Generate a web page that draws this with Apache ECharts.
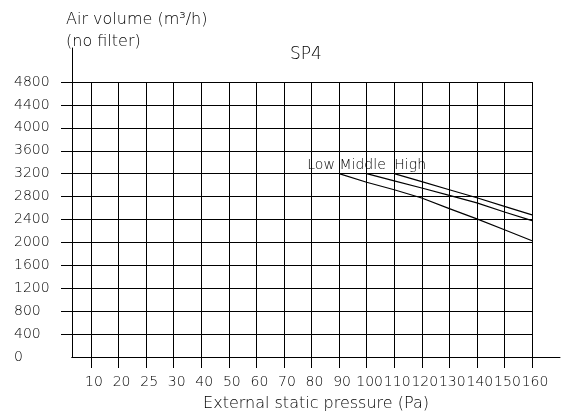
<!DOCTYPE html>
<html>
<head>
<meta charset="utf-8">
<script src="https://cdn.jsdelivr.net/npm/echarts@6/dist/echarts.min.js"></script>
<style>
  html, body { margin: 0; padding: 0; background: #fff; }
  #chart { width: 561px; height: 420px; }
</style>
</head>
<body>
<div id="chart"></div>
<script>
// pressure categories along the bottom (Pa)
var pressures = [10, 20, 25, 30, 40, 50, 60, 70, 80, 90, 100, 110, 120, 130, 140, 150, 160];
var airTicks = [0, 400, 800, 1200, 1600, 2000, 2400, 2800, 3200, 3600, 4000, 4400, 4800];

// fan curves, air volume (m3/h) against pressure (Pa)
var lowPa = [90, 100, 110, 120, 130, 140, 150, 160];
var lowAir = [3200, 3050, 2920, 2775, 2590, 2410, 2220, 2030];
var midPa = [100, 110, 120, 130, 140, 150, 160];
var midAir = [3200, 3075, 2950, 2820, 2690, 2530, 2380];
var highPa = [110, 120, 130, 140, 150, 160];
var highAir = [3200, 3060, 2920, 2780, 2630, 2480];

var FONT = 'DejaVu Sans';
var W = 200; // light weight if available
var idx = pressures.map(function (p, i) { return i; });

function curve(name, pa, air, dx) {
  var data = pa.map(function (p, i) {
    return [pressures.indexOf(p), air[i]];
  });
  data[0] = {
    value: data[0],
    label: {
      show: true, position: 'top', distance: 1, offset: [dx, 0],
      formatter: name, color: '#000', fontFamily: FONT, fontWeight: W, fontSize: 14
    }
  };
  return {
    name: name,
    type: 'line',
    xAxisIndex: 0,
    yAxisIndex: 0,
    showSymbol: true,
    symbol: 'circle',
    symbolSize: 0,
    lineStyle: { color: '#000', width: 1.2 },
    itemStyle: { color: '#000' },
    label: { show: false },
    data: data
  };
}

var chart = echarts.init(document.getElementById('chart'));
chart.setOption({
  animation: false,
  title: [
    {
      text: 'Air volume (m³/h)\n(no filter)',
      left: 66, top: 9, padding: 0,
      textStyle: { fontFamily: FONT, fontSize: 16, fontWeight: W, color: '#000', lineHeight: 22 }
    },
    {
      text: 'SP4',
      left: 290, top: 46, padding: 0,
      textStyle: { fontFamily: FONT, fontSize: 17, fontWeight: W, color: '#000' }
    }
  ],
  grid: [
    { left: 72, right: 29, top: 82, bottom: 63 },
    { left: 72, right: 1, top: 48, bottom: 63 }
  ],
  xAxis: [
    {
      type: 'value', gridIndex: 0, min: -0.69, max: 16,
      axisLine: { show: true, onZero: false, lineStyle: { color: '#000', width: 1 } },
      axisTick: { show: true, customValues: idx, length: 11, lineStyle: { color: '#000' } },
      axisLabel: {
        customValues: idx, margin: 18, color: '#000', fontFamily: FONT, fontWeight: W, fontSize: 14,
        padding: [0, 0, 0, 6],
        formatter: function (v) { return String(pressures[Math.round(v)]); }
      },
      splitLine: { show: true, lineStyle: { color: '#000', width: 1 } }
    },
    {
      type: 'value', gridIndex: 1, min: 0, max: 1,
      name: 'External static pressure (Pa)', nameLocation: 'middle', nameGap: 39,
      nameTextStyle: { fontFamily: FONT, fontWeight: W, fontSize: 16, color: '#000' },
      axisLine: { show: true, onZero: false, lineStyle: { color: '#000', width: 1 } },
      axisTick: { show: false }, axisLabel: { show: false }, splitLine: { show: false }
    }
  ],
  yAxis: [
    {
      type: 'value', gridIndex: 0, min: 0, max: 4800, interval: 400,
      axisLine: { show: true, onZero: false, lineStyle: { color: '#000', width: 1 } },
      axisTick: { show: true, customValues: airTicks.slice(1), length: 11, lineStyle: { color: '#000' } },
      axisLabel: {
        customValues: airTicks, align: 'left', margin: 58,
        color: '#000', fontFamily: FONT, fontWeight: W, fontSize: 14,
        formatter: function (v) { return String(v); }
      },
      splitLine: { show: true, lineStyle: { color: '#000', width: 1 } }
    },
    {
      type: 'value', gridIndex: 1, min: 0, max: 1,
      axisLine: { show: true, onZero: false, lineStyle: { color: '#000', width: 1 } },
      axisTick: { show: false }, axisLabel: { show: false }, splitLine: { show: false }
    }
  ],
  series: [
    curve('Low', lowPa, lowAir, -18),
    curve('Middle', midPa, midAir, -4),
    curve('High', highPa, highAir, 16)
  ]
});
</script>
</body>
</html>
